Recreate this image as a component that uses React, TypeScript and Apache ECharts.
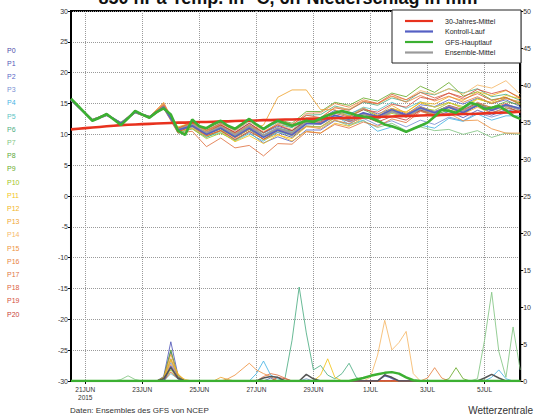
import React, { useEffect, useRef } from "react";
import * as echarts from "echarts";

// 6-hourly time steps, index 0 = 20 Jun 2015 12Z, index 63 = 6 Jul 06Z
const TICK_INDEX = [2, 10, 18, 26, 34, 42, 50, 58];
const TICK_LABELS = ["21JUN\n2015", "23JUN", "25JUN", "27JUN", "29JUN", "1JUL", "3JUL", "5JUL"];
const Y_LEFT_TICKS = [-30, 30, 5];
const Y_RIGHT_TICKS = [0, 50, 5];

// members are read at 12-hourly points (peaks/troughs of the daily cycle)
const MEMBER_STEPS = [0, 1, 3, 5, 7, 9, 11, 13, 15, 17, 19, 21, 23, 25, 27, 29, 31, 33, 35, 37, 39, 41, 43, 45, 47, 49, 51, 53, 55, 57, 59, 61, 63];

const P0 = [15.7,14.4,12.2,13.0,11.9,13.5,12.9,14.2,10.7,11.4,10.0,10.9,9.5,10.8,9.2,10.3,9.5,11.3,11.2,12.7,12.2,13.4,12.9,14.2,13.3,14.5,13.7,14.6,13.7,14.6,13.5,14.3,13.7];
const P1 = [15.5,14.6,12.4,13.3,11.7,13.7,12.9,14.6,10.9,11.7,10.5,11.5,10.3,11.8,10.2,11.3,10.6,12.5,12.5,13.9,13.3,14.2,13.3,14.2,13.0,13.9,12.9,13.7,12.7,13.9,13.1,14.0,13.5];
const P2 = [15.5,14.5,12.3,13.1,11.8,13.5,12.7,14.3,10.5,11.2,9.8,10.6,9.1,10.3,8.6,9.6,8.8,10.7,10.7,12.2,11.7,12.9,12.4,13.7,13.2,14.8,14.5,15.6,14.9,15.9,15.0,15.6,14.5];
const P3 = [15.6,14.4,12.4,13.3,11.9,13.7,12.8,14.5,11.0,11.7,10.3,11.1,9.6,10.8,9.5,10.9,10.3,12.2,12.2,13.1,12.0,12.6,11.5,12.2,11.2,12.3,11.6,12.8,12.2,13.5,12.8,13.5,12.5];
const P4 = [15.6,14.5,12.2,13.2,11.7,13.6,12.7,14.5,10.4,11.5,10.5,11.8,10.6,12.1,10.7,12.0,11.1,12.6,12.2,13.1,11.6,12.3,10.5,11.2,10.4,11.5,11.0,12.6,12.1,13.3,12.3,13.0,13.0];
const P5 = [15.5,14.4,12.3,13.1,11.8,13.6,12.8,14.3,10.7,11.2,9.6,10.3,8.9,10.1,8.9,10.4,9.9,12.0,12.2,13.7,13.2,14.4,13.9,15.2,14.2,15.3,14.4,15.2,14.2,15.1,14.0,14.8,14.3];
const P6 = [15.7,14.6,12.3,13.2,11.8,13.7,12.9,14.6,10.2,10.9,9.5,10.6,9.7,11.5,10.2,11.6,11.1,13.1,13.2,14.6,14.0,15.2,14.7,15.9,15.3,16.8,16.4,17.4,16.7,17.4,16.1,16.5,15.5];
const P7 = [15.5,14.5,12.4,13.3,11.9,13.6,12.8,14.4,10.9,11.8,10.6,11.6,10.1,11.3,9.6,10.6,9.7,11.4,11.2,12.3,11.4,12.2,11.1,11.8,10.6,11.2,10.6,10.8,10.0,10.6,9.5,10.2,10.0];
const P8 = [15.6,14.5,12.3,13.2,11.8,13.6,12.8,14.4,10.7,11.4,10.0,10.9,9.5,10.8,9.6,11.0,10.5,12.3,12.2,13.6,13.0,14.0,13.0,13.9,12.9,14.0,13.1,14.0,13.2,14.9,14.4,15.3,14.8];
const P9 = [15.7,14.5,12.3,13.2,11.8,13.6,12.8,14.4,11.0,12.0,10.9,12.0,10.8,12.3,11.0,12.4,11.8,13.7,13.7,15.2,14.7,15.9,15.4,16.7,16.1,17.8,16.8,18.4,16.2,16.9,15.6,16.0,15.0];
const P10 = [15.5,14.6,12.2,13.1,11.7,13.5,12.7,14.5,10.4,10.9,9.3,10.2,9.0,10.5,9.2,10.6,10.0,11.8,11.7,13.1,12.5,13.5,12.5,13.4,12.8,14.3,13.9,15.1,14.5,15.8,15.0,15.9,15.0];
const P11 = [15.6,14.4,12.3,13.2,11.8,13.6,12.8,14.4,10.7,11.3,9.8,10.5,8.8,9.8,8.5,9.9,9.3,11.2,11.2,12.7,12.2,13.4,12.9,14.2,13.6,15.1,14.4,15.2,14.2,15.7,15.2,16.3,15.8];
const P12 = [15.7,14.6,12.4,13.3,11.8,13.7,12.9,14.7,11.2,11.9,10.5,11.4,9.8,11.0,9.1,10.0,8.9,10.5,10.2,11.8,11.3,12.7,12.4,14.0,13.6,15.2,14.9,16.1,15.5,16.9,16.3,17.1,16.0];
const P13 = [15.6,14.5,12.3,13.2,11.8,13.6,12.8,15.2,10.5,11.0,9.7,10.7,9.4,10.8,11.5,16.0,17.2,17.2,14.0,14.0,12.9,14.3,13.1,14.7,13.4,14.5,13.5,14.3,13.3,14.4,13.4,14.3,13.7];
const P14 = [15.5,14.4,12.2,13.1,11.9,13.5,12.9,14.8,10.7,11.6,10.4,11.6,10.5,12.1,10.5,11.6,10.8,12.7,12.7,14.4,14.1,15.4,14.9,16.2,15.6,17.1,16.5,17.4,16.5,18.0,17.5,18.7,16.5];
const P15 = [15.6,14.6,12.4,13.3,11.8,13.7,12.7,14.4,10.5,11.4,10.2,11.3,10.1,11.6,9.9,10.9,9.8,11.3,10.9,12.3,11.7,12.9,12.5,13.9,12.8,13.8,12.8,13.4,12.2,12.3,10.9,10.2,10.2];
const P16 = [15.7,14.5,12.3,13.3,11.7,13.6,12.9,15.0,10.9,11.8,10.6,11.6,10.2,11.5,10.3,11.8,11.4,13.4,13.5,15.0,14.4,15.6,15.0,16.2,15.2,16.3,15.4,16.2,15.2,16.1,15.0,15.8,15.3];
const P17 = [15.5,14.4,12.2,13.1,11.7,13.5,12.6,14.2,10.2,10.5,8.0,9.4,7.8,8.2,6.5,8.5,8.4,10.4,10.2,11.6,11.0,12.0,11.3,12.5,11.9,13.7,13.3,14.5,13.8,15.2,14.3,15.0,14.0];
const P18 = [15.6,14.6,12.4,13.2,11.9,13.8,12.8,14.8,11.0,11.9,10.7,11.8,10.7,12.3,11.0,12.4,11.6,13.1,12.7,14.3,13.9,15.3,15.0,16.5,15.6,16.8,15.9,16.7,15.7,16.6,15.5,16.0,14.8];
const P19 = [15.6,14.5,12.3,13.2,11.8,13.6,12.8,14.6,10.7,11.3,9.8,10.6,9.2,10.5,9.2,10.6,10.0,12.0,12.0,13.4,12.8,14.0,13.6,14.9,14.4,16.0,15.6,16.7,16.0,17.3,16.6,17.2,15.8];
const P20 = [15.6,14.4,12.3,13.2,11.8,13.6,12.8,14.5,10.4,11.4,10.3,11.5,10.3,11.8,10.3,11.5,10.6,12.2,11.9,13.0,12.1,12.9,12.0,12.9,12.3,13.9,13.5,14.7,14.0,15.0,14.0,14.6,13.5];
const CONTROL = [15.6,14.5,12.3,13.2,11.8,13.6,12.8,14.4,10.7,11.4,10.0,11.0,9.6,11.0,9.5,10.7,9.9,11.7,11.7,13.1,12.5,13.5,12.9,14.0,13.1,14.3,13.5,14.4,13.5,14.7,13.9,14.8,14.2];
const ENS_MEAN = [15.6,14.5,12.3,13.2,11.8,13.6,12.8,14.4,10.7,11.5,10.2,11.2,9.9,11.3,9.8,11.0,10.2,11.9,11.7,13.0,12.3,13.3,12.6,13.7,12.9,14.2,13.5,14.5,13.7,14.8,13.9,14.7,14.0];

// 6-hourly
const GFS_MAIN = [15.8,14.6,13.4,12.2,12.7,13.3,12.4,11.5,12.6,13.8,13.2,12.7,13.6,14.2,13.2,10.6,9.9,12.4,11.3,11.0,11.7,12.2,11.4,10.9,11.7,12.5,11.6,10.9,11.6,12.2,11.8,11.4,11.8,12.2,12.0,12.6,13.1,13.5,13.8,13.5,13.1,12.9,12.7,12.2,11.6,11.3,10.9,10.4,10.9,11.4,11.9,12.9,14.0,13.8,13.5,14.3,15.1,14.8,14.1,14.3,14.6,13.9,13.0,12.5];
const CLIM_30Y = [10.8,10.9,11.0,11.1,11.2,11.3,11.4,11.5,11.55,11.6,11.65,11.7,11.75,11.8,11.85,11.9,11.9,11.95,12.0,12.0,12.05,12.1,12.1,12.15,12.2,12.2,12.25,12.3,12.3,12.35,12.4,12.4,12.45,12.5,12.5,12.55,12.6,12.6,12.65,12.7,12.7,12.75,12.8,12.8,12.85,12.9,12.95,13.0,13.0,13.05,13.1,13.1,13.15,13.2,13.25,13.3,13.3,13.35,13.4,13.45,13.5,13.55,13.6,13.65];

// 6h precipitation (mm), [step, value]; all other steps 0
const PR_P0 = [[13,0.4],[14,4.0],[15,0.5],[44,0.9],[45,0.3]];
const PR_P1 = [[13,0.6],[14,5.3],[15,0.8]];
const PR_P2 = [[13,0.3],[14,3.0],[15,0.4],[28,0.4]];
const PR_P3 = [[14,2.5],[15,0.5],[33,0.3]];
const PR_P4 = [[26,1.0],[27,2.7],[28,0.8],[29,0.3],[59,0.5],[60,1.5],[61,0.3]];
const PR_P5 = [[14,1.0],[15,0.3]];
const PR_P6 = [[30,0.3],[31,5.5],[32,12.7],[33,6.5],[34,1.5],[35,2.1],[36,0.8],[37,0.3],[38,1.0],[39,2.4],[40,0.5]];
const PR_P7 = [[7,0.2],[8,0.7],[9,0.2],[57,0.3],[58,5.5],[59,12.0],[60,4.0],[61,0.5],[62,7.3],[63,1.5]];
const PR_P8 = [[13,0.5],[14,4.2],[15,0.6]];
const PR_P9 = [[53,0.3],[54,1.8],[55,0.3]];
const PR_P10 = [[14,1.5],[15,0.3]];
const PR_P11 = [[13,0.3],[14,3.0],[15,1.0],[35,0.8],[36,3.0],[37,0.5]];
const PR_P12 = [[14,2.8],[15,0.8],[16,0.2]];
const PR_P13 = [[13,0.5],[14,3.6],[15,0.9],[21,0.5],[22,0.2]];
const PR_P14 = [[42,0.5],[43,3.5],[44,8.2],[45,4.2],[46,5.2],[47,6.7],[48,1.0]];
const PR_P15 = [[14,2.2],[15,0.5],[22,0.3],[23,0.8],[24,1.6],[25,2.4],[26,1.5],[27,1.0],[28,0.6]];
const PR_P16 = [[50,0.4],[51,1.8],[52,0.4]];
const PR_P17 = [[27,0.6],[28,1.0],[29,0.8],[30,0.4]];
const PR_P18 = [[14,1.2],[15,0.3]];
const PR_P19 = [[29,0.5],[30,0.3]];
const PR_P20: number[][] = [];
const PR_CONTROL = [[14,2.0],[15,0.3],[44,0.7],[45,0.4]];
const PR_MEAN = [[13,0.3],[14,1.8],[15,0.4],[27,0.4],[28,0.6],[29,0.5],[33,0.9],[34,0.3],[44,0.8],[45,0.5],[58,0.4],[59,0.9],[60,0.4]];
const PR_MAIN = [[40,0.2],[41,0.4],[42,0.7],[43,0.9],[44,1.1],[45,1.2],[46,1.0],[47,0.5],[48,0.1]];

const MEMBERS = [P0,P1,P2,P3,P4,P5,P6,P7,P8,P9,P10,P11,P12,P13,P14,P15,P16,P17,P18,P19,P20];
const MEMBER_PRECIP = [PR_P0,PR_P1,PR_P2,PR_P3,PR_P4,PR_P5,PR_P6,PR_P7,PR_P8,PR_P9,PR_P10,PR_P11,PR_P12,PR_P13,PR_P14,PR_P15,PR_P16,PR_P17,PR_P18,PR_P19,PR_P20];
const MEMBER_NAMES = ["P0","P1","P2","P3","P4","P5","P6","P7","P8","P9","P10","P11","P12","P13","P14","P15","P16","P17","P18","P19","P20"];
const MEMBER_COLORS = ["#4a4aa8","#5258b8","#5a68c8","#7a90d4","#48b4e4","#5cc4c4","#4fae84","#84c684","#5aa83a","#6aac2c","#a4c424","#f2c41a","#f2b424","#f0a634","#f6b868","#ee9444","#e88444","#e07444","#dc6444","#d45040","#c83c38"];
const LEGEND_NAMES = ["30-Jahres-Mittel", "Kontroll-Lauf", "GFS-Hauptlauf", "Ensemble-Mittel"];
const LEGEND_COLORS = ["#e8321e", "#5560c4", "#3cb032", "#9a9a9a"];

const N_STEPS = 64;
const FONT = "Liberation Sans, Arial, sans-serif";

export default function App() {
  const ref = useRef<HTMLDivElement>(null);
  useEffect(() => {
    if (!ref.current) return;
    const chart = echarts.init(ref.current, undefined, { renderer: "svg" });
    const steps: string[] = [];
    for (let i = 0; i < N_STEPS; i++) steps.push(String(i));
    const isTick = (i: number) => TICK_INDEX.indexOf(i) >= 0;
    const dense = (ev: number[][]) => {
      const arr: number[] = [];
      for (let i = 0; i < N_STEPS; i++) arr.push(0);
      ev.forEach(([s, v]) => { arr[s] = v; });
      return arr.map((v, i) => [i, v]);
    };
    const memberData = (a: number[]) => MEMBER_STEPS.map((s, k) => [s, a[k]]);
    const series: any[] = [];
    MEMBERS.forEach((m, k) => {
      series.push({
        name: MEMBER_NAMES[k] + " Niederschlag", type: "line", yAxisIndex: 1, data: dense(MEMBER_PRECIP[k]),
        symbol: "none", lineStyle: { width: 1, color: MEMBER_COLORS[k], opacity: 0.85 }, z: 2, silent: true,
      });
    });
    series.push({ name: "Kontroll-Lauf Niederschlag", type: "line", yAxisIndex: 1, data: dense(PR_CONTROL), symbol: "none", lineStyle: { width: 1.2, color: LEGEND_COLORS[1] }, z: 3, silent: true });
    series.push({ name: "Ensemble-Mittel Niederschlag", type: "line", yAxisIndex: 1, data: dense(PR_MEAN), symbol: "none", lineStyle: { width: 1.5, color: "#555" }, z: 3, silent: true });
    series.push({ name: "GFS-Hauptlauf Niederschlag", type: "line", yAxisIndex: 1, data: dense(PR_MAIN), symbol: "none", lineStyle: { width: 2.5, color: LEGEND_COLORS[2] }, z: 4, silent: true });
    MEMBERS.forEach((m, k) => {
      series.push({
        name: MEMBER_NAMES[k], type: "line", yAxisIndex: 0, data: memberData(m),
        symbol: "none", lineStyle: { width: 1, color: MEMBER_COLORS[k], opacity: 0.85 }, z: 2, silent: true,
      });
    });
    series.push({ name: LEGEND_NAMES[3], type: "line", data: memberData(ENS_MEAN), symbol: "none", lineStyle: { width: 2.2, color: LEGEND_COLORS[3] }, z: 5, silent: true });
    series.push({ name: LEGEND_NAMES[1], type: "line", data: memberData(CONTROL), symbol: "none", lineStyle: { width: 1.5, color: LEGEND_COLORS[1] }, z: 5, silent: true });
    series.push({ name: LEGEND_NAMES[0], type: "line", data: CLIM_30Y.map((v, i) => [i, v]), symbol: "none", lineStyle: { width: 2.6, color: LEGEND_COLORS[0] }, z: 6, silent: true });
    series.push({ name: LEGEND_NAMES[2], type: "line", data: GFS_MAIN.map((v, i) => [i, v]), symbol: "none", lineStyle: { width: 2.6, color: LEGEND_COLORS[2] }, z: 7, silent: true });

    const graphics: any[] = [
      { type: "text", x: 288, y: -2, z: 50, style: { text: "850 hPa Temp. in °C, 6h-Niederschlag in mm", fontSize: 18, fontWeight: "bold", fill: "#111", fontFamily: FONT, align: "center", verticalAlign: "middle" } },
      { type: "text", x: 70, y: 410, z: 50, style: { text: "Daten: Ensembles des GFS von NCEP", fontSize: 8, fill: "#333", fontFamily: FONT, verticalAlign: "middle" } },
      { type: "text", x: 533, y: 410, z: 50, style: { text: "Wetterzentrale", fontSize: 10, fill: "#333", fontFamily: FONT, align: "right", verticalAlign: "middle" } },
      { type: "rect", x: 392, y: 10, z: 50, shape: { width: 129, height: 53 }, style: { fill: "#fff", stroke: "#222", lineWidth: 1 } },
    ];
    LEGEND_NAMES.forEach((n, k) => {
      const y = 21 + k * 10.5;
      graphics.push({ type: "line", z: 51, shape: { x1: 405, y1: y, x2: 433, y2: y }, style: { stroke: LEGEND_COLORS[k], lineWidth: 2.2 } });
      graphics.push({ type: "text", x: 445, y, z: 51, style: { text: n, fontSize: 7, fill: "#222", fontFamily: FONT, verticalAlign: "middle" } });
    });
    MEMBER_NAMES.forEach((n, k) => {
      graphics.push({ type: "text", x: 7, y: 50 + k * 13.2, z: 50, style: { text: n, fontSize: 7, fill: MEMBER_COLORS[k], fontFamily: FONT, verticalAlign: "middle" } });
    });

    chart.setOption({
      animation: false,
      backgroundColor: "#fff",
      textStyle: { fontFamily: FONT },
      grid: { left: 71, right: 13, top: 11, bottom: 35, show: true, borderColor: "#000", borderWidth: 2, backgroundColor: "transparent" },
      xAxis: {
        type: "category", data: steps, boundaryGap: false,
        axisLine: { onZero: false, lineStyle: { color: "#000", width: 2 } },
        axisTick: { show: true, interval: (i: number) => isTick(i), length: 3, lineStyle: { color: "#000" } },
        axisLabel: {
          interval: (i: number) => isTick(i),
          formatter: (v: string) => TICK_LABELS[TICK_INDEX.indexOf(Number(v))] || "",
          fontSize: 6.5, color: "#333", margin: 4, lineHeight: 8,
        },
        splitLine: { show: true, interval: (i: number) => isTick(i), lineStyle: { type: "dotted", color: "#9a9a9a", width: 1 } },
      },
      yAxis: [
        {
          type: "value", min: Y_LEFT_TICKS[0], max: Y_LEFT_TICKS[1], interval: Y_LEFT_TICKS[2], position: "left",
          axisLine: { show: true, onZero: false, lineStyle: { color: "#000", width: 2 } },
          axisTick: { show: true, length: 3, lineStyle: { color: "#000" } },
          axisLabel: { fontSize: 7, color: "#333", margin: 3 },
          splitLine: { show: true, lineStyle: { type: "dotted", color: "#9a9a9a", width: 1 } },
        },
        {
          type: "value", min: Y_RIGHT_TICKS[0], max: Y_RIGHT_TICKS[1], interval: Y_RIGHT_TICKS[2], position: "right",
          axisLine: { show: true, onZero: false, lineStyle: { color: "#000", width: 2 } },
          axisTick: { show: true, length: 3, lineStyle: { color: "#000" } },
          axisLabel: { fontSize: 7, color: "#333", margin: 3 },
          splitLine: { show: false },
        },
      ],
      graphic: graphics,
      series,
    });
    return () => chart.dispose();
  }, []);
  return <div ref={ref} style={{ position: "fixed", left: 0, top: 0, width: 534, height: 416 }} />;
}
